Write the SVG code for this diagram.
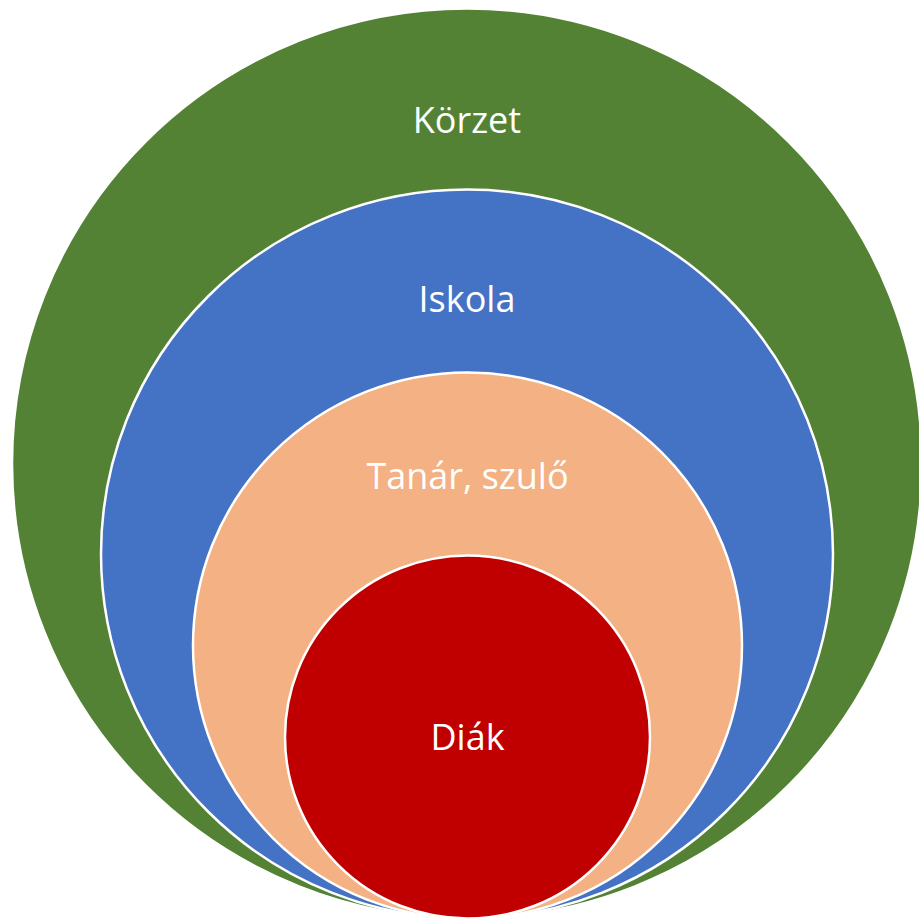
<svg xmlns="http://www.w3.org/2000/svg" width="919" height="918" viewBox="0 0 919 918">
<style>
.ring{stroke:#ffffff;stroke-width:2.5}
.lbl{font-family:"Open Sans","Liberation Sans",sans-serif;font-size:36px;fill:#ffffff;text-anchor:middle}
</style>
<rect width="919" height="918" fill="#ffffff"/>
<g id="korzet">
<ellipse class="ring" cx="467" cy="463.5" rx="455" ry="455" fill="#548235"/>
<text class="lbl" x="467" y="133">Körzet</text>
</g>
<g id="iskola">
<ellipse class="ring" cx="467" cy="554" rx="366" ry="364.5" fill="#4472C4"/>
<text class="lbl" x="467" y="312">Iskola</text>
</g>
<g id="tanar">
<ellipse class="ring" cx="467.5" cy="645.5" rx="274.5" ry="273" fill="#F4B183"/>
<text class="lbl" x="467.5" y="489">Tanár, szulő</text>
</g>
<g id="diak">
<ellipse class="ring" cx="467.5" cy="737" rx="182.5" ry="181.5" fill="#C00000"/>
<text class="lbl" x="467.5" y="750">Diák</text>
</g>
<g id="connectors"/>
</svg>
